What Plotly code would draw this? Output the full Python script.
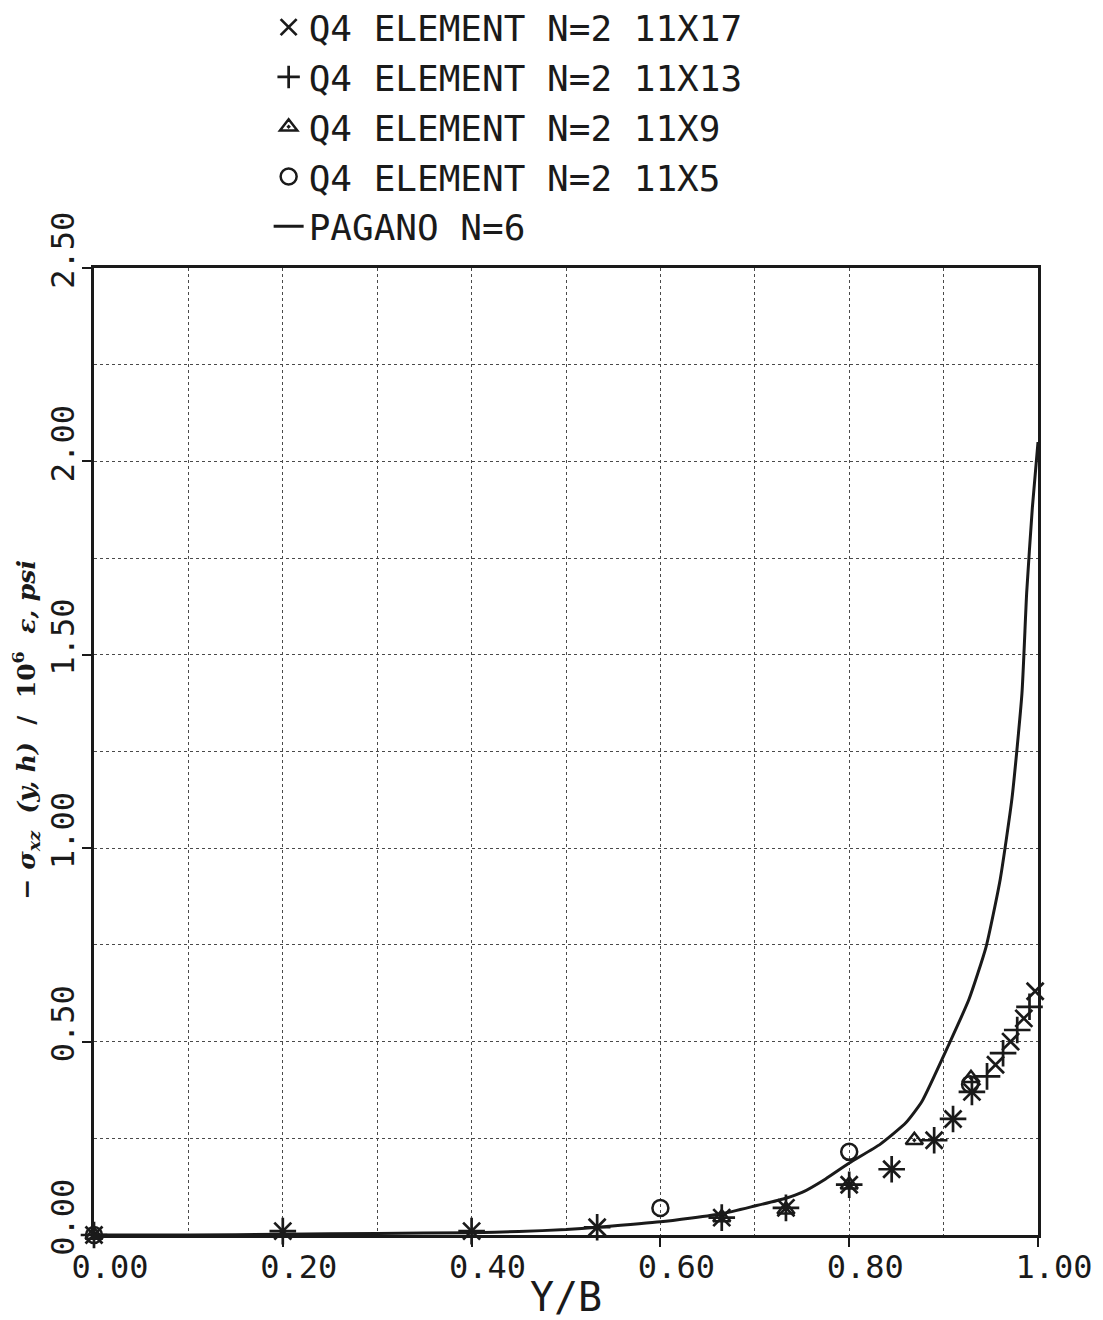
import plotly.graph_objects as go

# ---- data ----
x_11x17 = [0.0, 0.20, 0.40, 0.533, 0.665, 0.733, 0.80, 0.845, 0.89, 0.91, 0.93, 0.955, 0.971, 0.985, 0.997]
y_11x17 = [0.0, 0.010, 0.010, 0.020, 0.045, 0.070, 0.130, 0.170, 0.245, 0.300, 0.370, 0.440, 0.500, 0.560, 0.630]

x_11x13 = [0.0, 0.20, 0.40, 0.533, 0.665, 0.733, 0.80, 0.845, 0.89, 0.91, 0.93, 0.946, 0.963, 0.978, 0.991]
y_11x13 = [0.0, 0.010, 0.010, 0.020, 0.045, 0.070, 0.130, 0.170, 0.245, 0.300, 0.370, 0.410, 0.470, 0.530, 0.590]

x_11x9 = [0.0, 0.665, 0.733, 0.80, 0.869, 0.929]
y_11x9 = [0.0, 0.045, 0.065, 0.130, 0.245, 0.405]

x_11x5 = [0.0, 0.20, 0.40, 0.60, 0.80, 0.928]
y_11x5 = [0.0, -0.035, -0.030, 0.070, 0.215, 0.390]

x_pagano = [0.0, 0.10, 0.20, 0.30, 0.40, 0.45, 0.50, 0.533, 0.60, 0.665, 0.70, 0.733, 0.75,
            0.775, 0.80, 0.833, 0.86, 0.877, 0.906, 0.927, 0.945, 0.96, 0.9725, 0.983, 0.988, 0.994, 1.00]
y_pagano = [0.0, 0.0, 0.002, 0.004, 0.006, 0.009, 0.014, 0.020, 0.034, 0.055, 0.075, 0.095, 0.110,
            0.145, 0.186, 0.235, 0.290, 0.345, 0.495, 0.610, 0.745, 0.920, 1.130, 1.400, 1.660, 1.880, 2.050]

x_ticks = [0.0, 0.2, 0.4, 0.6, 0.8, 1.0]
y_ticks = [0.0, 0.5, 1.0, 1.5, 2.0, 2.5]

names = ["Q4 ELEMENT N=2 11X17", "Q4 ELEMENT N=2 11X13",
         "Q4 ELEMENT N=2 11X9", "Q4 ELEMENT N=2 11X5", "PAGANO N=6"]

y_title = ("<b>&nbsp;&nbsp;&nbsp;&nbsp;&nbsp;−&nbsp;<i>σ</i><sub><i>xz</i></sub>&nbsp;&nbsp;"
           "<i>(y,&nbsp;h)</i>&nbsp;&nbsp;/&nbsp;&nbsp;10<sup>6</sup>&nbsp;&nbsp;<i>ε,&nbsp;psi</i></b>")

MONO = "DejaVu Sans Mono"
INK = "#1a1a1a"

fig = go.Figure()

fig.add_trace(go.Scatter(x=x_11x17, y=y_11x17, mode="markers", name=names[0], cliponaxis=False,
                         marker=dict(symbol="x-thin-open", size=17, color=INK,
                                     line=dict(width=2.7, color=INK))))
fig.add_trace(go.Scatter(x=x_11x13, y=y_11x13, mode="markers", name=names[1], cliponaxis=False,
                         marker=dict(symbol="cross-thin-open", size=19, color=INK,
                                     line=dict(width=2.7, color=INK))))
fig.add_trace(go.Scatter(x=x_11x9, y=y_11x9, mode="markers", name=names[2], cliponaxis=False,
                         marker=dict(symbol="triangle-up-open-dot", size=15, color=INK,
                                     line=dict(width=2.5, color=INK))))
fig.add_trace(go.Scatter(x=x_11x5, y=y_11x5, mode="markers", name=names[3], cliponaxis=False,
                         marker=dict(symbol="circle-open", size=16, color=INK,
                                     line=dict(width=2.5, color=INK))))
fig.add_trace(go.Scatter(x=x_pagano, y=y_pagano, mode="lines", name=names[4],
                         line=dict(color=INK, width=3, shape="spline", smoothing=0.5)))

grid = dict(showgrid=True, gridcolor="#4a4a4a", griddash="dot", gridwidth=1)

fig.update_layout(
    width=1095, height=1312,
    margin=dict(l=86, r=65, t=260, b=85, autoexpand=False),
    paper_bgcolor="white", plot_bgcolor="white",
    font=dict(family=MONO, color=INK, size=32),
    showlegend=True,
    legend=dict(x=0.185, y=1.28, xanchor="left", yanchor="top",
                font=dict(family=MONO, size=36, color=INK),
                bgcolor="rgba(0,0,0,0)", itemsizing="trace", traceorder="normal"),
    xaxis=dict(range=[0, 1], tickvals=x_ticks, tickformat=".2f",
               ticks="outside", ticklen=9, tickwidth=2, tickcolor=INK,
               ticklabelshift=16, ticklabelstandoff=-7,
               showline=True, linewidth=3, linecolor=INK, mirror=True, zeroline=False,
               tickfont=dict(family=MONO, size=32, color=INK),
               minor=dict(dtick=0.1, ticks="", **grid),
               title=dict(text="Y/B", font=dict(family=MONO, size=40, color=INK), standoff=2),
               **grid),
    yaxis=dict(range=[0, 2.5], tickvals=y_ticks, tickformat=".2f",
               ticks="outside", ticklen=9, tickwidth=2, tickcolor=INK,
               tickangle=-90, ticklabelshift=-13, ticklabelstandoff=-5,
               showline=True, linewidth=3, linecolor=INK, mirror=True, zeroline=False,
               tickfont=dict(family=MONO, size=32, color=INK),
               minor=dict(dtick=0.25, ticks="", **grid),
               title=dict(text=y_title,
                          font=dict(family="DejaVu Serif", size=25, color=INK), standoff=12),
               **grid),
)

fig.write_html("out.html")
